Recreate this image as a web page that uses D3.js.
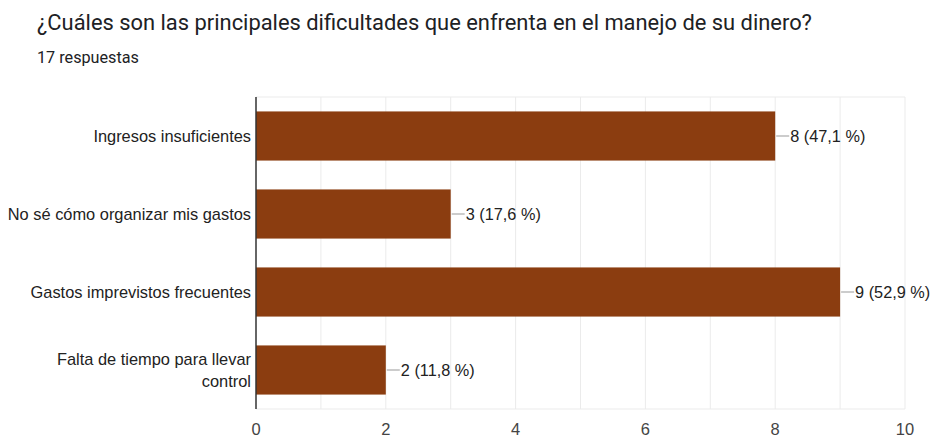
<!DOCTYPE html>
<html>
<head>
<meta charset="utf-8">
<script src="https://cdn.jsdelivr.net/npm/d3@7"></script>
<style>
  body { margin: 0; background: #fff; }
</style>
</head>
<body>
<svg id="chart"></svg>
<script>
var titleText = "¿Cuáles son las principales dificultades que enfrenta en el manejo de su dinero?";
var subtitleText = "17 respuestas";
var categories = [
  ["Ingresos insuficientes"],
  ["No sé cómo organizar mis gastos"],
  ["Gastos imprevistos frecuentes"],
  ["Falta de tiempo para llevar", "control"]
];
var counts = [8, 3, 9, 2];
var percents = ["47,1", "17,6", "52,9", "11,8"];
var tickValues = [0, 2, 4, 6, 8, 10];

var width = 934;
var height = 436;
var margin = {top: 97, right: 29, bottom: 27, left: 256};

var svg = d3.select("#chart")
  .attr("width", width)
  .attr("height", height);

svg.append("text")
  .attr("x", 37)
  .attr("y", 30)
  .attr("font-family", "Roboto")
  .attr("font-size", "21.9px")
  .attr("fill", "#202124")
  .text(titleText);

svg.append("text")
  .attr("x", 37)
  .attr("y", 63)
  .attr("font-family", "Roboto")
  .attr("font-size", "16.2px")
  .attr("fill", "#202124")
  .text(subtitleText);

var x = d3.scaleLinear()
  .domain([0, 10])
  .range([margin.left, width - margin.right]);

var y = d3.scaleBand()
  .domain(d3.range(counts.length))
  .range([margin.top, height - margin.bottom])
  .paddingInner(0.37)
  .paddingOuter(0.185);

// gridlines every 1 unit
svg.selectAll(".grid")
  .data(d3.range(1, 11))
  .enter()
  .append("line")
  .attr("x1", function(d){ return x(d); })
  .attr("x2", function(d){ return x(d); })
  .attr("y1", margin.top)
  .attr("y2", height - margin.bottom)
  .attr("stroke", "#ebebeb")
  .attr("stroke-width", 1);

svg.append("line")
  .attr("x1", margin.left)
  .attr("x2", width - margin.right)
  .attr("y1", margin.top)
  .attr("y2", margin.top)
  .attr("stroke", "#ebebeb");

svg.append("line")
  .attr("x1", margin.left)
  .attr("x2", width - margin.right)
  .attr("y1", height - margin.bottom)
  .attr("y2", height - margin.bottom)
  .attr("stroke", "#ebebeb");

svg.selectAll(".bar")
  .data(counts)
  .enter()
  .append("rect")
  .attr("x", x(0))
  .attr("y", function(d, i){ return y(i); })
  .attr("width", function(d){ return x(d) - x(0); })
  .attr("height", y.bandwidth())
  .attr("fill", "#8b3d10");

// y axis line
svg.append("line")
  .attr("x1", x(0))
  .attr("x2", x(0))
  .attr("y1", margin.top)
  .attr("y2", height - margin.bottom)
  .attr("stroke", "#333")
  .attr("stroke-width", 1.5);

// leader lines and value labels
svg.selectAll(".leader")
  .data(counts)
  .enter()
  .append("line")
  .attr("x1", function(d){ return x(d) + 1; })
  .attr("x2", function(d){ return x(d) + 14; })
  .attr("y1", function(d, i){ return y(i) + y.bandwidth() / 2; })
  .attr("y2", function(d, i){ return y(i) + y.bandwidth() / 2; })
  .attr("stroke", "#999")
  .attr("stroke-width", 1);

svg.selectAll(".value")
  .data(counts)
  .enter()
  .append("text")
  .attr("x", function(d){ return x(d) + 15; })
  .attr("y", function(d, i){ return y(i) + y.bandwidth() / 2; })
  .attr("dy", "0.35em")
  .attr("font-family", "Liberation Sans, Arial, sans-serif")
  .attr("font-size", "16.3px")
  .attr("fill", "#222")
  .text(function(d, i){ return d + " (" + percents[i] + " %)"; });

// category labels
var catText = svg.selectAll(".cat")
  .data(categories)
  .enter()
  .append("text")
  .attr("text-anchor", "end")
  .attr("font-family", "Liberation Sans, Arial, sans-serif")
  .attr("font-size", "16.4px")
  .attr("fill", "#222");

catText.each(function(lines, i){
  var cy = y(i) + y.bandwidth() / 2;
  var lh = 22;
  var start = cy - (lines.length - 1) * lh / 2;
  d3.select(this).selectAll("tspan")
    .data(lines)
    .enter()
    .append("tspan")
    .attr("x", margin.left - 5)
    .attr("y", function(d, j){ return start + j * lh; })
    .attr("dy", "0.35em")
    .text(function(d){ return d; });
});

// x tick labels
svg.selectAll(".tick")
  .data(tickValues)
  .enter()
  .append("text")
  .attr("x", function(d){ return x(d); })
  .attr("y", 435)
  .attr("text-anchor", "middle")
  .attr("font-family", "Liberation Sans, Arial, sans-serif")
  .attr("font-size", "16.5px")
  .attr("fill", "#444")
  .text(function(d){ return d; });
</script>
</body>
</html>
